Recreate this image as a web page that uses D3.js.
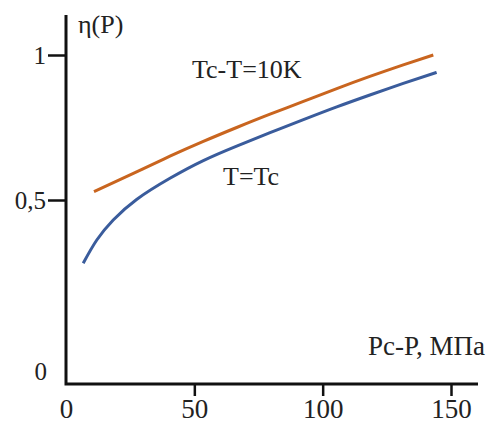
<!DOCTYPE html>
<html>
<head>
<meta charset="utf-8">
<script src="https://cdn.jsdelivr.net/npm/d3@7"></script>
<style>
  html, body { margin: 0; padding: 0; background: #fff; }
  svg { display: block; }
</style>
</head>
<body>
<svg id="chart" width="501" height="423"></svg>
<script>
// ---- data ----
const xTickValues = [0, 50, 100, 150];
const xTickLabels = ["0", "50", "100", "150"];
const yTickValues = [0.5, 1];
const yTickLabels = ["0,5", "1"];

const seriesNames = ["Tc-T=10K", "T=Tc"];
const seriesColors = ["#C9651F", "#3A5C9C"];

const tenK_P   = [10.9, 27.5, 40.5, 53.5, 66.5, 79.5, 92.5, 105.5, 118.4, 131.4, 143.1];
const tenK_eta = [0.529, 0.597, 0.651, 0.702, 0.750, 0.796, 0.840, 0.884, 0.926, 0.966, 1.0];

const tc_P   = [6.7, 12.0, 18.4, 27.5, 40.5, 53.5, 66.5, 79.5, 92.5, 105.5, 118.4, 131.4, 144.4];
const tc_eta = [0.282, 0.362, 0.431, 0.502, 0.575, 0.636, 0.686, 0.732, 0.777, 0.821, 0.862, 0.902, 0.940];

const xAxisTitle = "Pc-P, МПа";
const yAxisTitle = "η(P)";

// ---- chart ----
const FONT = "Liberation Serif, DejaVu Serif, Noto Serif, Tinos, Times New Roman, Times, FreeSerif, Nimbus Roman, Georgia, serif";
const svg = d3.select("#chart");
const x = d3.scaleLinear().domain([0, 150]).range([66, 451]);
const y = d3.scaleLinear().domain([0.5, 1]).range([200, 55]);
const axisY0 = 384;

const line = d3.line()
  .x(d => x(d[0]))
  .y(d => y(d[1]))
  .curve(d3.curveNatural);

const series = [
  tenK_P.map((p, i) => [p, tenK_eta[i]]),
  tc_P.map((p, i) => [p, tc_eta[i]])
];

series.forEach((s, i) => {
  svg.append("path")
    .datum(s)
    .attr("fill", "none")
    .attr("stroke", seriesColors[i])
    .attr("stroke-width", 3)
    .attr("d", line);
});

// x axis
const gx = svg.append("g")
  .attr("transform", `translate(0,${axisY0})`)
  .call(d3.axisBottom(x)
    .tickValues(xTickValues)
    .tickFormat((d, i) => xTickLabels[i])
    .tickSize(12)
    .tickPadding(3));
gx.attr("font-family", FONT).attr("font-size", 27);
gx.select(".domain").remove();
gx.selectAll(".tick line").attr("stroke", "#111").attr("stroke-width", 2.5);
gx.selectAll(".tick").filter(d => d === 0).select("line").remove();
gx.selectAll(".tick text").attr("fill", "#222");

// y axis
const gy = svg.append("g")
  .attr("transform", `translate(66,0)`)
  .call(d3.axisLeft(y)
    .tickValues(yTickValues)
    .tickFormat((d, i) => yTickLabels[i])
    .tickSize(18)
    .tickPadding(2));
gy.attr("font-family", FONT).attr("font-size", 25);
gy.select(".domain").remove();
gy.selectAll(".tick line").attr("stroke", "#111").attr("stroke-width", 2.5);
gy.selectAll(".tick text").attr("fill", "#222");

// axis lines
svg.append("path")
  .attr("d", `M66,15 L66,${axisY0} L478,${axisY0}`)
  .attr("fill", "none")
  .attr("stroke", "#111")
  .attr("stroke-width", 3)
  .attr("stroke-linejoin", "miter");

function label(xp, yp, size, txt, anchor) {
  svg.append("text")
    .attr("x", xp).attr("y", yp)
    .attr("text-anchor", anchor || "start")
    .attr("font-size", size)
    .attr("font-family", FONT)
    .attr("fill", "#222")
    .text(txt);
}

// origin label on y side
label(47, 380, 25, "0", "end");
// axis titles
label(78, 33, 26, yAxisTitle);
label(368, 355, 27, xAxisTitle);
// series labels
label(192, 78, 26, seriesNames[0]);
label(223, 185, 26, seriesNames[1]);
</script>
</body>
</html>
